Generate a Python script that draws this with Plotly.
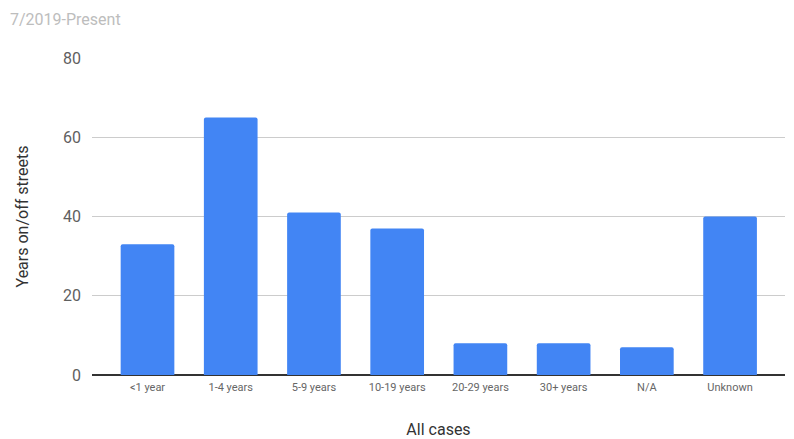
import plotly.graph_objects as go

categories = ["<1 year", "1-4 years", "5-9 years", "10-19 years", "20-29 years", "30+ years", "N/A", "Unknown"]
values = [33, 65, 41, 37, 8, 8, 7, 40]
y_ticks = [0, 20, 40, 60, 80]

fig = go.Figure(go.Bar(
    x=categories, y=values,
    marker=dict(color="#4285f4", line=dict(width=0), cornerradius=2),
    width=0.645,
    hoverinfo="x+y",
))

fig.update_layout(
    width=794, height=439,
    margin=dict(l=92, r=9, t=58, b=64, autoexpand=False),
    paper_bgcolor="white", plot_bgcolor="white",
    font=dict(family="Roboto", color="#444444"),
    showlegend=False,
    title=dict(text="7/2019-Present", x=10/794, xanchor="left", xref="container",
               y=1 - 19/439, yanchor="middle", yref="container",
               font=dict(family="Roboto", size=16, color="#bdbdbd")),
    xaxis=dict(
        range=[-0.667, 7.66], automargin=False,
        tickfont=dict(family="Roboto", size=11, color="#666666"),
        showgrid=False, showline=False, zeroline=False,
        ticks="", ticklabelstandoff=4,
        title=dict(text="All cases", font=dict(family="Roboto", size=16, color="#333333"), standoff=31),
    ),
    yaxis=dict(
        range=[0, 80], tickvals=y_ticks, automargin=False,
        tickfont=dict(family="Roboto", size=16, color="#5f5f5f"),
        showgrid=True, gridcolor="#cccccc", gridwidth=1,
        zeroline=True, zerolinecolor="#333333", zerolinewidth=1.5,
        showline=False, ticks="", ticklabelstandoff=10,
        title=dict(text="Years on/off streets", font=dict(family="Roboto", size=16, color="#333333"), standoff=30),
    ),
)

fig.write_html("out.html")
